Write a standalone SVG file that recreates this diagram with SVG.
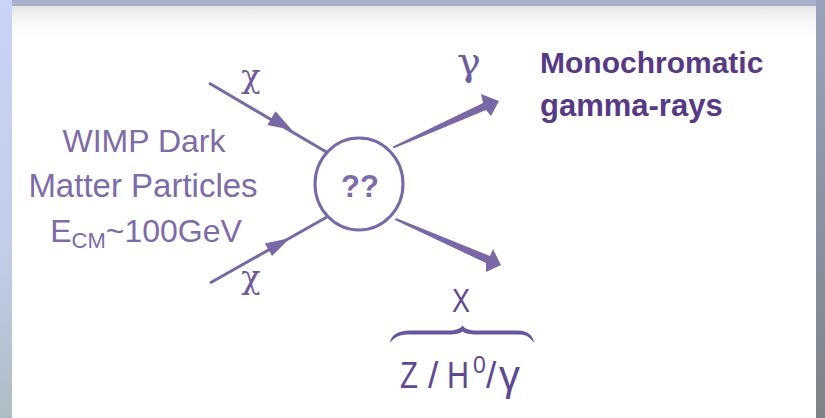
<svg xmlns="http://www.w3.org/2000/svg" width="825" height="418" viewBox="0 0 825 418">
  <defs>
    <linearGradient id="bgL" x1="0" y1="0" x2="0" y2="1">
      <stop offset="0" stop-color="#c9d4f6"/>
      <stop offset="0.6" stop-color="#c2cde8"/>
      <stop offset="1" stop-color="#aebcc4"/>
    </linearGradient>
    <linearGradient id="bgR" x1="0" y1="0" x2="0" y2="1">
      <stop offset="0" stop-color="#99a2bc"/>
      <stop offset="1" stop-color="#7c8388"/>
    </linearGradient>
    <linearGradient id="shadeTop" x1="0" y1="0" x2="0" y2="1">
      <stop offset="0" stop-color="#e4e4e6"/>
      <stop offset="1" stop-color="#ffffff" stop-opacity="0"/>
    </linearGradient>
    <style>
      .ln { stroke: #7a67a5; stroke-width: 3; fill: none; }
      .fl { fill: #7a67a5; }
      .t { font-family: "Liberation Sans", Arial, sans-serif; fill: #7d6ca8; }
      .b { font-family: "Liberation Sans", Arial, sans-serif; font-weight: bold; fill: #563a86; }
      .g { font-family: "DejaVu Serif", "Liberation Serif", serif; fill: #6f5c9c; }
      .d { font-family: "Liberation Sans", Arial, sans-serif; fill: #5e4892; }
    </style>
  </defs>

  <!-- slide background -->
  <rect x="0" y="0" width="825" height="418" fill="#a9b1cc"/>
  <rect x="0" y="0" width="12" height="418" fill="url(#bgL)"/>
  <rect x="816" y="0" width="9" height="418" fill="url(#bgR)"/>
  <rect x="12" y="6" width="804" height="412" fill="#ffffff"/>
  <rect x="12" y="6" width="804" height="36" fill="url(#shadeTop)"/>

  <g id="connectors">
    <!-- incoming top -->
    <line class="ln" x1="209" y1="83" x2="328" y2="153"/>
    <polygon class="fl" points="292,130 267.3,124.9 275.5,111.2"/>
    <!-- incoming bottom -->
    <line class="ln" x1="210" y1="283" x2="327" y2="217"/>
    <polygon class="fl" points="290,238 272.1,256.0 264.9,243.6"/>
    <!-- outgoing top (gamma) -->
    <polygon class="fl" points="393,146.5 483,103 481,94 499,101 491,116 486,110 393.5,148.5"/>
    <!-- outgoing bottom (X) -->
    <polygon class="fl" points="396,218 490,256 493,249 501,265 486,272 486,263 395,220"/>
  </g>

  <g id="label-source">
    <text class="t" x="144" y="152" font-size="32" text-anchor="middle">WIMP Dark</text>
    <text class="t" x="143" y="197" font-size="33" text-anchor="middle">Matter Particles</text>
    <text class="t" x="146" y="242" font-size="32" text-anchor="middle">E<tspan font-size="22" dy="6">CM</tspan><tspan dy="-6">~100GeV</tspan></text>
  </g>

  <g id="chi-top">
    <text class="g" x="251" y="87" font-size="32" text-anchor="middle">χ</text>
  </g>
  <g id="chi-bottom">
    <text class="g" x="251" y="288" font-size="32" text-anchor="middle">χ</text>
  </g>

  <g id="vertex">
    <ellipse cx="359" cy="184" rx="44" ry="46" fill="none" stroke="#7a67a5" stroke-width="3"/>
    <text class="t" x="360" y="197" font-size="31" font-weight="bold" text-anchor="middle" fill="#6f5c9c">??</text>
  </g>

  <g id="gamma-top">
    <text class="g" x="469" y="75" font-size="40" text-anchor="middle">γ</text>
  </g>

  <g id="label-mono">
    <text class="b" x="540" y="73" font-size="30">Monochromatic</text>
    <text class="b" x="540" y="116" font-size="31">gamma-rays</text>
  </g>

  <g id="x-label">
    <text class="d" x="452" y="312" font-size="34" textLength="18" lengthAdjust="spacingAndGlyphs">X</text>
  </g>

  <g id="brace">
    <path fill="#6a569e" d="M390,343 C391,335 397,331 410,330.5 L448,330.5 C456,330.5 460,329 462.5,325.5 C465,329 469,330.5 477,330.5 L518,330.5 C528,331 533,335 534,343 C530,337 526,334.5 518,334.5 L477,334.5 C469,334.5 465,333.5 462.5,331.5 C460,333.5 456,334.5 448,334.5 L410,334.5 C400,334.5 394,337 390,343 Z"/>
  </g>

  <g id="decay-products">
    <text class="d" y="388" font-size="37"><tspan x="400" textLength="18" lengthAdjust="spacingAndGlyphs">Z</tspan><tspan x="428">/</tspan><tspan x="447" textLength="22" lengthAdjust="spacingAndGlyphs">H</tspan><tspan x="473" y="373" font-size="23">0</tspan><tspan x="486" y="388">/</tspan><tspan x="499" y="390" font-size="42">γ</tspan></text>
  </g>
</svg>
